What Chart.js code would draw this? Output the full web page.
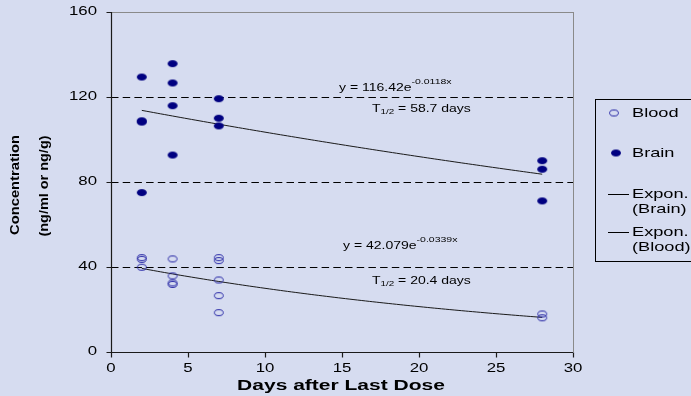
<!DOCTYPE html>
<html>
<head>
<meta charset="utf-8">
<script src="https://cdn.jsdelivr.net/npm/chart.js@4"></script>
<style>
  html, body { margin: 0; padding: 0; background: #d6dcf0; }
  #wrap { width: 691px; height: 396px; }
</style>
</head>
<body>
<div id="wrap"><canvas id="chart" width="691" height="396"></canvas></div>
<script>
// measurements: days after last dose vs concentration
const brainDays = [2, 2, 2, 2, 4, 4, 4, 4, 7, 7, 7, 28, 28, 28]
const brainConc = [129.4, 108.8, 108.2, 75, 135.7, 126.6, 115.9, 92.7, 119.2, 110, 106.4, 90, 86, 71.1]
const bloodDays = [2, 2, 2, 4, 4, 4, 4, 7, 7, 7, 7, 7, 28, 28]
const bloodConc = [44.4, 43.6, 39.9, 43.8, 35.8, 32.5, 31.8, 44.4, 43, 33.9, 26.5, 18.5, 17.9, 16.1]

// exponential fits  y = a * e^(-k x)
const brainFit = { a: 116.42, k: 0.0118 }
const bloodFit = { a: 42.079, k: 0.0339 }
const fitDays = [2, 4, 6, 8, 10, 12, 14, 16, 18, 20, 22, 24, 26, 28]

const xTicks = [0, 5, 10, 15, 20, 25, 30]
const yTicks = [0, 40, 80, 120, 160]

const brainEq = ['y = 116.42e', '-0.0118x']
const bloodEq = ['y = 42.079e', '-0.0339x']
const brainHalfLife = '58.7 days'
const bloodHalfLife = '20.4 days'

const NAVY = '#000080'
const BLUE = '#2424a4'
const FONT = '"Liberation Sans", Arial, sans-serif'
const SX = 1.4 // text is drawn wide

const fitPoints = (fit) => fitDays.map(d => ({ x: d, y: fit.a * Math.exp(-fit.k * d) }))

const ellipse = (filled) => {
  const c = document.createElement('canvas')
  c.width = 12
  c.height = 9
  const g = c.getContext('2d')
  g.beginPath()
  if (filled) {
    g.ellipse(6, 4.5, 5, 3.5, 0, 0, Math.PI * 2)
    g.fillStyle = NAVY
    g.fill()
  } else {
    g.ellipse(6, 4.5, 4.4, 3, 0, 0, Math.PI * 2)
    g.strokeStyle = BLUE
    g.lineWidth = 1
    g.stroke()
  }
  return c
}
const brainMark = ellipse(true)
const bloodMark = ellipse(false)

const wideText = (ctx, str, x, y, font, align = 'left') => {
  ctx.save()
  ctx.font = font
  ctx.fillStyle = '#000'
  ctx.textBaseline = 'middle'
  ctx.textAlign = 'left'
  const w = ctx.measureText(str).width * SX
  const left = align === 'center' ? x - w / 2 : align === 'right' ? x - w : x
  ctx.translate(left, y)
  ctx.scale(SX, 1)
  ctx.fillText(str, 0, 0)
  ctx.restore()
  return left + w
}

const upText = (ctx, str, x, y, len, font) => {
  ctx.save()
  ctx.font = font
  ctx.fillStyle = '#000'
  ctx.textBaseline = 'middle'
  ctx.textAlign = 'center'
  const w = ctx.measureText(str).width
  ctx.translate(x, y)
  ctx.rotate(-Math.PI / 2)
  ctx.scale(len / w, 1.05)
  ctx.fillText(str, 0, 0)
  ctx.restore()
}

const frame = {
  id: 'frame',
  beforeDraw(chart) {
    const { ctx, width, height } = chart
    ctx.save()
    ctx.fillStyle = '#d6dcf0'
    ctx.fillRect(0, 0, width, height)
    ctx.restore()
  },
  beforeDatasetsDraw(chart) {
    const { ctx, chartArea: area, scales: { x, y } } = chart
    ctx.save()

    // horizontal grid lines
    yTicks.forEach(v => {
      if (v === 0) return
      const py = Math.round(y.getPixelForValue(v)) + 0.5
      ctx.beginPath()
      if (v === 160) {
        ctx.setLineDash([])
        ctx.strokeStyle = '#8a8a8a'
      } else {
        ctx.setLineDash([7.5, 4.2])
        ctx.strokeStyle = '#000'
      }
      ctx.lineWidth = 1
      ctx.moveTo(area.left, py)
      ctx.lineTo(area.right, py)
      ctx.stroke()
    })
    ctx.setLineDash([])

    // right edge of plot
    ctx.strokeStyle = '#8a8a8a'
    ctx.beginPath()
    ctx.moveTo(Math.round(area.right) + 0.5, area.top)
    ctx.lineTo(Math.round(area.right) + 0.5, area.bottom)
    ctx.stroke()

    // axes and tick marks
    ctx.strokeStyle = '#1a1a1a'
    ctx.lineWidth = 1.2
    const ax = Math.round(area.left) + 0.5
    const ay = Math.round(area.bottom) + 0.5
    ctx.beginPath()
    ctx.moveTo(ax, area.top)
    ctx.lineTo(ax, ay)
    ctx.lineTo(area.right, ay)
    yTicks.forEach(v => {
      const py = Math.round(y.getPixelForValue(v)) + 0.5
      ctx.moveTo(ax - 5, py)
      ctx.lineTo(ax, py)
    })
    xTicks.forEach(v => {
      const px = Math.round(x.getPixelForValue(v)) + 0.5
      ctx.moveTo(px, ay)
      ctx.lineTo(px, ay + 5)
    })
    ctx.stroke()

    const tickFont = `12px ${FONT}`
    yTicks.forEach(v => wideText(ctx, String(v), area.left - 14, y.getPixelForValue(v), tickFont, 'right'))
    xTicks.forEach(v => wideText(ctx, String(v), x.getPixelForValue(v), area.bottom + 17, tickFont, 'center'))

    // axis titles
    wideText(ctx, 'Days after Last Dose', (area.left + area.right) / 2 - 1, 386, `bold 15px ${FONT}`, 'center')
    upText(ctx, 'Concentration', 15, 185, 100, `bold 13px ${FONT}`)
    upText(ctx, '(ng/ml or ng/g)', 44, 186, 101, `bold 13px ${FONT}`)

    // fit equations and half-lives
    const eq = (parts, x0, y0) => {
      const end = wideText(ctx, parts[0], x0, y0, `10px ${FONT}`)
      wideText(ctx, parts[1], end, y0 - 6, `7.5px ${FONT}`)
    }
    const half = (val, x0, y0) => {
      let end = wideText(ctx, 'T', x0, y0, `10px ${FONT}`)
      end = wideText(ctx, '1/2', end, y0 + 3, `7px ${FONT}`)
      wideText(ctx, ' = ' + val, end, y0, `10px ${FONT}`)
    }
    eq(brainEq, 339, 88)
    half(brainHalfLife, 372, 109)
    eq(bloodEq, 343, 246)
    half(bloodHalfLife, 372, 281)

    ctx.restore()
  },
  afterDraw(chart) {
    const { ctx } = chart
    const sets = chart.data.datasets
    ctx.save()
    ctx.strokeStyle = '#000'
    ctx.lineWidth = 1
    ctx.strokeRect(595.5, 99.5, 120, 162)

    const f = `13px ${FONT}`
    ctx.drawImage(bloodMark, 614 - 6, 113 - 4.5)
    wideText(ctx, sets[0].label, 632, 113, f)
    ctx.drawImage(brainMark, 616 - 6, 153 - 4.5)
    wideText(ctx, sets[1].label, 632, 153, f)

    const lineItem = (label, y0) => {
      ctx.beginPath()
      ctx.moveTo(608, y0 + 0.5)
      ctx.lineTo(629, y0 + 0.5)
      ctx.stroke()
      const [a, b] = label.split(' ')
      wideText(ctx, a, 632, y0, f)
      wideText(ctx, b, 632, y0 + 15, f)
    }
    lineItem(sets[2].label, 194)
    lineItem(sets[3].label, 232)
    ctx.restore()
  }
}

document.addEventListener('DOMContentLoaded', () => {
  const toPoints = (xs, ys) => xs.map((d, i) => ({ x: d, y: ys[i] }))

  new Chart(document.getElementById('chart'), {
    type: 'scatter',
    data: {
      datasets: [
        {
          label: 'Blood',
          data: toPoints(bloodDays, bloodConc),
          pointStyle: bloodMark,
          pointRadius: 5,
        },
        {
          label: 'Brain',
          data: toPoints(brainDays, brainConc),
          pointStyle: brainMark,
          pointRadius: 5,
        },
        {
          type: 'line',
          label: 'Expon. (Brain)',
          data: fitPoints(brainFit),
          borderColor: '#1a1a1a',
          borderWidth: 1,
          pointRadius: 0,
          tension: 0.4,
          fill: false,
        },
        {
          type: 'line',
          label: 'Expon. (Blood)',
          data: fitPoints(bloodFit),
          borderColor: '#1a1a1a',
          borderWidth: 1,
          pointRadius: 0,
          tension: 0.4,
          fill: false,
        },
      ]
    },
    options: {
      responsive: false,
      animation: false,
      layout: { padding: { left: 111, top: 12, right: 118, bottom: 44 } },
      plugins: { legend: { display: false }, tooltip: { enabled: false } },
      scales: {
        x: { type: 'linear', min: 0, max: 30, display: false },
        y: { type: 'linear', min: 0, max: 160, display: false },
      }
    },
    plugins: [frame]
  })
})
</script>
</body>
</html>
